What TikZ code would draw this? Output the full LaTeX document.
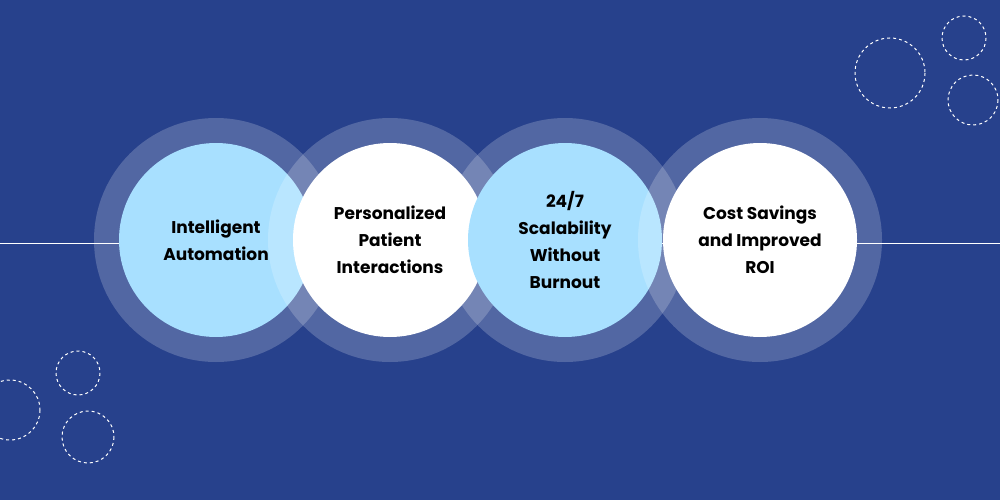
\documentclass[tikz,border=0pt]{standalone}
\usepackage{fontspec}
\setmainfont{Poppins}
\begin{document}
\begin{tikzpicture}[x=1pt,y=-1pt,
  halo/.style={fill=white,fill opacity=0.2,draw=none},
  bluec/.style={circle,fill={rgb,255:red,168;green,224;blue,255},minimum size=194pt,inner sep=0pt,align=center,font=\fontsize{17}{27}\selectfont\bfseries,text=black},
  whitec/.style={bluec,fill=white},
  dashc/.style={draw=white,line width=1pt,dash pattern=on 3pt off 3pt}]
\definecolor{bg}{RGB}{39,65,140}
\fill[bg] (0,0) rectangle (1000,500);
\useasboundingbox (0,0) rectangle (1000,500);
\draw[white,line width=1pt] (0,243) -- (1000,243);
\fill[halo] (216,240) circle (122);
\node[bluec] (a) at (216,240) {Intelligent\\Automation};
\fill[halo] (390,240) circle (122);
\node[whitec] (b) at (390,240) {Personalized\\Patient\\Interactions};
\fill[halo] (565,240) circle (122);
\node[bluec] (c) at (565,240) {24/7\\Scalability\\Without\\Burnout};
\fill[halo] (760,240) circle (122);
\node[whitec] (d) at (760,240) {Cost Savings\\and Improved\\ROI};
\draw[dashc] (890,73) circle (35);
\draw[dashc] (964,38) circle (22);
\draw[dashc] (973,100) circle (25);
\draw[dashc] (10,410) circle (30);
\draw[dashc] (78,373) circle (22);
\draw[dashc] (88,437) circle (26);
\end{tikzpicture}
\end{document}
